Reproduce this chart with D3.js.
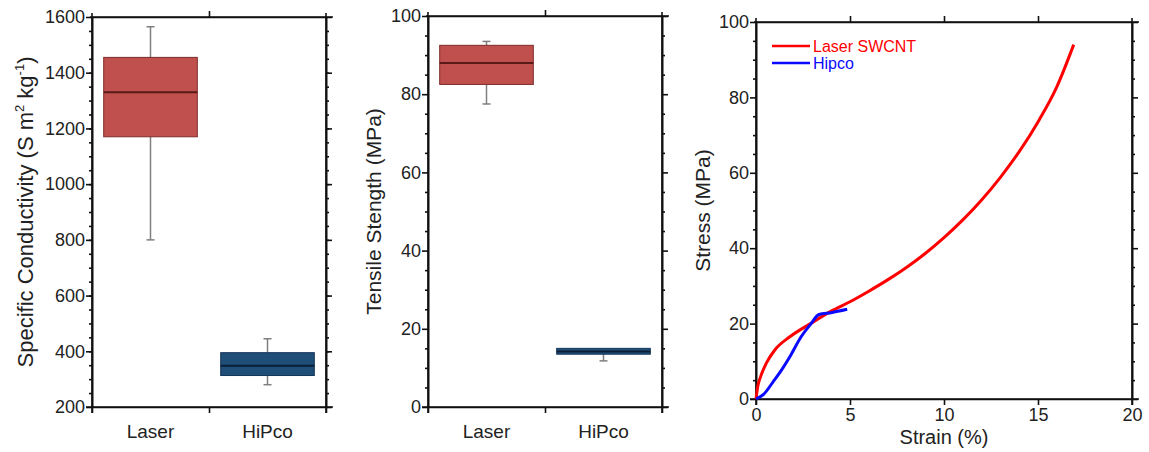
<!DOCTYPE html>
<html lang="en">
<head>
    <meta charset="UTF-8">
    <title>SWCNT fibres: conductivity, strength, stress-strain</title>
    <script src="https://d3js.org/d3.v7.min.js"></script>
    <style>
        body { margin: 0; background: #fff; }
        svg { font-family: Arial, "Liberation Sans", sans-serif; }
        .axis path, .axis line { stroke: #111; stroke-width: 1.6; }
        .axis text { font-size: 18px; fill: #222; }
    </style>
</head>
<body>
    <svg id="chart" width="1149" height="452"></svg>
    <script>
        // box plot categories
        const categories = ['Laser', 'HiPco'];
        // [min, q1, median, q3, max]
        const conductivityStats = [
            [800, 1170, 1330, 1455, 1565],
            [280, 313, 348, 395, 445]
        ];
        const tensileStats = [
            [77.5, 82.5, 88, 92.5, 93.5],
            [11.8, 13.5, 14.2, 15, 15]
        ];
        const boxFill = ['#c0504d', '#1f4e79'];
        const boxStroke = ['#7d2b29', '#14355a'];
        const medianStroke = ['#5a1a18', '#0b1f36'];

        // stress-strain curves
        const laserStrain = [0, 0.1, 0.25, 0.55, 1, 1.8, 2.9, 4, 5, 6, 7, 8, 9, 10, 11, 12, 13, 14, 15, 16, 16.9];
        const laserStress = [0, 3.5, 6, 9.5, 13, 16.5, 20, 23.3, 25.8, 28.6, 31.6, 34.9, 38.6, 42.8, 47.5, 52.8, 58.8, 65.6, 73.5, 82.8, 94];
        const hipcoStrain = [0, 0.4, 0.9, 1.4, 1.8, 2.4, 2.9, 3.35, 4, 4.85];
        const hipcoStress = [0, 1.2, 4.5, 8, 11.2, 16.5, 19.8, 22.4, 22.9, 23.8];

        const svg = d3.select('#chart');
        const fmt = d3.format('d');

        function frame(g, x, y, opts) {
            const w = x.range()[1] - x.range()[0];
            const h = y.range()[0] - y.range()[1];
            // left / right major + minor
            g.append('g').attr('class', 'axis')
                .call(d3.axisLeft(y).tickValues(opts.yMajor).tickSize(6).tickSizeOuter(0).tickPadding(1).tickFormat(fmt));
            g.append('g').attr('class', 'axis')
                .call(d3.axisLeft(y).tickValues(opts.yMinor).tickSize(3).tickSizeOuter(0).tickFormat(''));
            g.append('g').attr('class', 'axis').attr('transform', `translate(${w},0)`)
                .call(d3.axisRight(y).tickValues(opts.yMajor).tickSize(6).tickSizeOuter(0).tickFormat(''));
            g.append('g').attr('class', 'axis').attr('transform', `translate(${w},0)`)
                .call(d3.axisRight(y).tickValues(opts.yMinor).tickSize(3).tickSizeOuter(0).tickFormat(''));
            // bottom / top
            g.append('g').attr('class', 'axis').attr('transform', `translate(0,${h})`)
                .call(opts.xBottom);
            g.append('g').attr('class', 'axis').call(opts.xTop);
            // edges overshoot a bit like the original
            g.append('line').attr('x1', -2).attr('x2', w + 7).attr('y1', 0).attr('y2', 0)
                .attr('stroke', '#111').attr('stroke-width', 1.6);
            g.append('line').attr('x1', -6).attr('x2', w + 7).attr('y1', h).attr('y2', h)
                .attr('stroke', '#111').attr('stroke-width', 1.6);
            g.append('line').attr('x1', 0).attr('x2', 0).attr('y1', -4).attr('y2', h + 6)
                .attr('stroke', '#111').attr('stroke-width', 1.6);
            g.append('line').attr('x1', w).attr('x2', w).attr('y1', -4).attr('y2', h + 6)
                .attr('stroke', '#111').attr('stroke-width', 1.6);
        }

        function boxPanel(left, right, top, bottomY, domain, yMajor, yMinor, stats, label, labelX, labelSize) {
            const g = svg.append('g').attr('transform', `translate(${left},${top})`);
            const w = right - left, h = bottomY - top;
            const x = d3.scaleBand().domain(categories).range([0, w]);
            const y = d3.scaleLinear().domain(domain).range([h, 0]);
            const edges = d3.scaleLinear().domain([0, 2]).range([0, w]);

            const xb = g2 => {
                g2.call(d3.axisBottom(edges).tickValues([0, 1, 2]).tickSize(6).tickSizeOuter(0).tickFormat(''));
            };
            const xt = g2 => {
                g2.call(d3.axisTop(edges).tickValues([1]).tickSize(6).tickSizeOuter(0).tickFormat(''));
            };
            frame(g, x, y, { yMajor, yMinor, xBottom: xb, xTop: xt });

            g.selectAll('.cat').data(categories).join('text')
                .attr('x', d => x(d) + x.bandwidth() / 2)
                .attr('y', h + 31)
                .attr('text-anchor', 'middle')
                .attr('font-size', 19).attr('fill', '#222')
                .text(d => d);

            const bw = x.bandwidth() * 0.8;
            categories.forEach((c, i) => {
                const [mn, q1, md, q3, mx] = stats[i];
                const cx = x(c) + x.bandwidth() / 2;
                const wg = g.append('g').attr('stroke', '#7f7f7f').attr('stroke-width', 1.5);
                if (mx > q3) {
                    wg.append('line').attr('x1', cx).attr('x2', cx).attr('y1', y(mx)).attr('y2', y(q3));
                    wg.append('line').attr('x1', cx - 4).attr('x2', cx + 4).attr('y1', y(mx)).attr('y2', y(mx));
                }
                if (mn < q1) {
                    wg.append('line').attr('x1', cx).attr('x2', cx).attr('y1', y(q1)).attr('y2', y(mn));
                    wg.append('line').attr('x1', cx - 4).attr('x2', cx + 4).attr('y1', y(mn)).attr('y2', y(mn));
                }
                g.append('rect')
                    .attr('x', cx - bw / 2).attr('width', bw)
                    .attr('y', y(q3)).attr('height', y(q1) - y(q3))
                    .attr('fill', boxFill[i]).attr('stroke', boxStroke[i]).attr('stroke-width', 1);
                g.append('line').attr('x1', cx - bw / 2).attr('x2', cx + bw / 2)
                    .attr('y1', y(md)).attr('y2', y(md))
                    .attr('stroke', medianStroke[i]).attr('stroke-width', 2);
            });

            svg.append('text')
                .attr('transform', `translate(${labelX},${top + h / 2}) rotate(-90)`)
                .attr('text-anchor', 'middle')
                .attr('font-size', labelSize).attr('fill', '#222')
                .html(label);
        }

        boxPanel(92, 326, 17, 407, [200, 1600], d3.range(200, 1601, 200), d3.range(250, 1600, 50),
            conductivityStats,
            'Specific Conductivity (S m<tspan dy="-9" font-size="13">2</tspan><tspan dy="9"> kg</tspan><tspan dy="-9" font-size="13">-1</tspan><tspan dy="9">)</tspan>',
            33, 22);

        boxPanel(428, 662, 16, 407, [0, 100], d3.range(0, 101, 20), d3.range(5, 100, 5).filter(v => v % 20),
            tensileStats, 'Tensile Stength (MPa)', 381, 21);

        // stress-strain panel
        (function () {
            const left = 756, right = 1132, top = 22, bottomY = 399;
            const w = right - left, h = bottomY - top;
            const g = svg.append('g').attr('transform', `translate(${left},${top})`);
            const x = d3.scaleLinear().domain([0, 20]).range([0, w]);
            const y = d3.scaleLinear().domain([0, 100]).range([h, 0]);

            const yMinor = d3.range(5, 100, 5).filter(v => v % 20);
            const xb = g2 => g2.call(d3.axisBottom(x).tickValues([0, 5, 10, 15, 20]).tickSize(6).tickSizeOuter(0).tickPadding(3));
            const xt = g2 => g2.call(d3.axisTop(x).tickValues([5, 10, 15]).tickSize(6).tickSizeOuter(0).tickFormat(''));
            frame(g, x, y, { yMajor: d3.range(0, 101, 20), yMinor, xBottom: xb, xTop: xt });

            const line = d3.line().x(d => x(d[0])).y(d => y(d[1])).curve(d3.curveMonotoneX);
            const laser = laserStrain.map((v, i) => [v, laserStress[i]]);
            const hipco = hipcoStrain.map((v, i) => [v, hipcoStress[i]]);
            g.append('path').datum(laser).attr('d', line)
                .attr('fill', 'none').attr('stroke', '#ff0000').attr('stroke-width', 3);
            g.append('path').datum(hipco).attr('d', line)
                .attr('fill', 'none').attr('stroke', '#0a0aff').attr('stroke-width', 3);

            const legend = [['Laser SWCNT', '#ff0000'], ['Hipco', '#0a0aff']];
            legend.forEach(([name, col], i) => {
                const ly = 24 + i * 17;
                g.append('line').attr('x1', 16).attr('x2', 54).attr('y1', ly).attr('y2', ly)
                    .attr('stroke', col).attr('stroke-width', 2.5);
                g.append('text').attr('x', 57).attr('y', ly + 6)
                    .attr('font-size', 16).attr('fill', col).text(name);
            });

            svg.append('text')
                .attr('x', left + w / 2).attr('y', 444)
                .attr('text-anchor', 'middle').attr('font-size', 20).attr('fill', '#222')
                .text('Strain (%)');
            svg.append('text')
                .attr('transform', `translate(710,${top + h / 2}) rotate(-90)`)
                .attr('text-anchor', 'middle').attr('font-size', 21).attr('fill', '#222')
                .text('Stress (MPa)');
        })();
    </script>
</body>
</html>
